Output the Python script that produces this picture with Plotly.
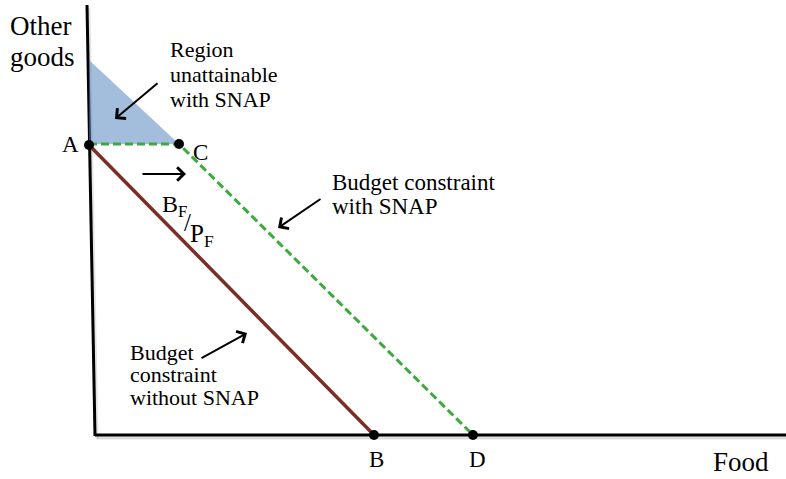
import plotly.graph_objects as go

# Data units: 1 unit per screen pixel, origin at the budget-line intercepts
point_names = ["A", "C", "B", "D"]
point_x = [0, 90, 285, 384]
point_y = [290, 291, 0, 0]

# budget constraint without SNAP: A -> B
budget_x = [0, 285]
budget_y = [290, 0]
# budget constraint with SNAP: A -> C -> D
snap_x = [0, 90, 384]
snap_y = [291, 291, 0]
# unattainable region triangle
region_x = [0, 0, 90, 0]
region_y = [375, 291, 291, 375]
# axes
yaxis_x = [-2, 6]
yaxis_y = [430, -1]
xaxis_x = [6, 697]
xaxis_y = [0, 0]

label_x = [-18.5, 111, 287, 388]
label_y = [291, 283, -24, -24]

FONT = "Liberation Serif"

fig = go.Figure()
# axis shadows
fig.add_trace(go.Scatter(x=[v + 2 for v in xaxis_x], y=[v - 3 for v in xaxis_y], mode="lines",
                         line=dict(color="rgba(0,0,0,0.13)", width=3), hoverinfo="skip"))
fig.add_trace(go.Scatter(x=[v + 2 for v in yaxis_x], y=[v - 3 for v in yaxis_y], mode="lines",
                         line=dict(color="rgba(0,0,0,0.10)", width=3), hoverinfo="skip"))
fig.add_trace(go.Scatter(x=yaxis_x, y=yaxis_y, mode="lines", line=dict(color="black", width=3), hoverinfo="skip"))
fig.add_trace(go.Scatter(x=xaxis_x, y=xaxis_y, mode="lines", line=dict(color="black", width=3), hoverinfo="skip"))
fig.add_trace(go.Scatter(x=region_x, y=region_y, mode="lines", fill="toself",
                         fillcolor="rgba(79,129,189,0.52)", line=dict(width=0), hoverinfo="skip"))
fig.add_trace(go.Scatter(x=budget_x, y=budget_y, mode="lines", line=dict(color="#7A2E25", width=3.5)))
fig.add_trace(go.Scatter(x=snap_x, y=snap_y, mode="lines",
                         line=dict(color="#3DAA3D", width=3, dash="8px,4px")))
fig.add_trace(go.Scatter(x=point_x, y=point_y, mode="markers",
                         marker=dict(color="black", size=10)))

for name, x, y in zip(point_names, label_x, label_y):
    fig.add_annotation(x=x, y=y, text=name, showarrow=False, font=dict(family=FONT, size=23, color="black"))

texts = [
    dict(x=-81, y=409, text="Other", xanchor="left", size=27),
    dict(x=-81, y=378, text="goods", xanchor="left", size=27),
    dict(x=79, y=386, text="Region", xanchor="left", size=22),
    dict(x=79, y=361, text="unattainable", xanchor="left", size=22),
    dict(x=79, y=336, text="with SNAP", xanchor="left", size=22),
    dict(x=241, y=253, text="Budget constraint", xanchor="left", size=23),
    dict(x=241, y=229, text="with SNAP", xanchor="left", size=23),
    dict(x=39, y=83, text="Budget", xanchor="left", size=22),
    dict(x=39, y=61, text="constraint", xanchor="left", size=22),
    dict(x=39, y=38, text="without SNAP", xanchor="left", size=22),
    dict(x=652, y=-27, text="Food", xanchor="center", size=27),
    dict(x=71, y=229, text="B<sub>F</sub>", xanchor="left", size=24),
    dict(x=98, y=213, text="/", xanchor="center", size=25),
    dict(x=99, y=200, text="P<sub>F</sub>", xanchor="left", size=25),
]
for t in texts:
    fig.add_annotation(x=t["x"], y=t["y"], text=t["text"], showarrow=False, xanchor=t["xanchor"],
                       font=dict(family=FONT, size=t["size"], color="black"))

arrows = [
    (26, 316, 70, 353),
    (97, 261, 52, 261),
    (189, 207, 233, 237),
    (158, 102, 111, 76),
]
for hx, hy, tx, ty in arrows:
    fig.add_annotation(x=hx, y=hy, ax=tx, ay=ty, axref="x", ayref="y", xref="x", yref="y",
                       showarrow=True, arrowhead=4, arrowsize=1.3, arrowwidth=2, arrowcolor="black", text="")

fig.update_layout(
    width=786, height=479, margin=dict(l=0, r=0, t=0, b=0),
    paper_bgcolor="white", plot_bgcolor="white", showlegend=False,
    xaxis=dict(range=[-89, 697], visible=False, fixedrange=True),
    yaxis=dict(range=[-44, 435], visible=False, fixedrange=True),
)
fig.write_html("out.html", config={"displayModeBar": False},
               post_script="document.body.style.margin='0';")
